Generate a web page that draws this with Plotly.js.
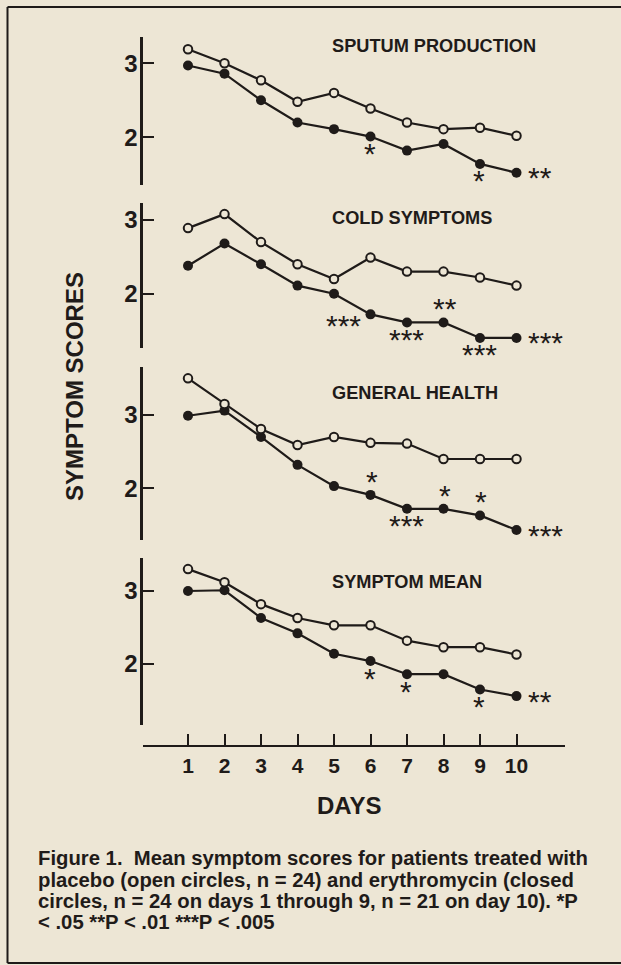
<!DOCTYPE html>
<html>
<head>
<meta charset="utf-8">
<script src="https://cdn.plot.ly/plotly-3.0.1.min.js"></script>
<style>
  html, body { margin: 0; padding: 0; background: #ede6d5; }
  #chart { width: 621px; height: 965px; }
</style>
</head>
<body>
<div id="chart"></div>
<script>
// ---------- data ----------
const days = [1, 2, 3, 4, 5, 6, 7, 8, 9, 10];
const dayTickLabels = ["1", "2", "3", "4", "5", "6", "7", "8", "9", "10"];
const scoreTicks = [2, 3];

const panelTitles = ["SPUTUM PRODUCTION", "COLD SYMPTOMS", "GENERAL HEALTH", "SYMPTOM MEAN"];

// placebo = open circles, erythromycin = closed circles
const sputumPlacebo  = [3.19, 3.00, 2.77, 2.48, 2.60, 2.39, 2.20, 2.11, 2.13, 2.02];
const sputumErythro  = [2.97, 2.86, 2.50, 2.20, 2.11, 2.01, 1.82, 1.91, 1.64, 1.52];
const coldPlacebo    = [2.89, 3.08, 2.70, 2.40, 2.20, 2.49, 2.30, 2.30, 2.22, 2.11];
const coldErythro    = [2.38, 2.68, 2.40, 2.11, 2.00, 1.72, 1.61, 1.61, 1.40, 1.40];
const generalPlacebo = [3.50, 3.15, 2.81, 2.59, 2.70, 2.62, 2.61, 2.40, 2.40, 2.40];
const generalErythro = [2.99, 3.06, 2.70, 2.32, 2.03, 1.91, 1.72, 1.72, 1.63, 1.43];
const meanPlacebo    = [3.30, 3.12, 2.82, 2.63, 2.53, 2.53, 2.32, 2.23, 2.23, 2.13];
const meanErythro    = [3.00, 3.01, 2.63, 2.42, 2.14, 2.04, 1.86, 1.86, 1.65, 1.56];

// significance marks on the erythromycin series
const sputumSig  = ["", "", "", "", "", "*", "", "", "*", "**"];
const coldSig    = ["", "", "", "", "", "***", "***", "**", "***", "***"];
const generalSig = ["", "", "", "", "", "*", "***", "*", "*", "***"];
const meanSig    = ["", "", "", "", "", "*", "*", "", "*", "**"];

const sputumSigAt  = ["", "", "", "", "", "below", "", "", "below", "right"];
const coldSigAt    = ["", "", "", "", "", "belowleft", "below", "above", "below", "right"];
const generalSigAt = ["", "", "", "", "", "above", "below", "above", "above", "right"];
const meanSigAt    = ["", "", "", "", "", "below", "below", "", "below", "right"];

const yAxisTitle = "SYMPTOM SCORES";
const xAxisTitle = "DAYS";
const captionLines = [
  "Figure 1.  Mean symptom scores for patients treated with",
  "placebo (open circles, n = 24) and erythromycin (closed",
  "circles, n = 24 on days 1 through 9, n = 21 on day 10). *P",
  "< .05 **P < .01 ***P < .005"
];

// ---------- styling / layout ----------
const W = 621, H = 965;
const INK = "#1f1b19";
const BG = "#ede6d5";
const FONT = "Liberation Sans, Arial, Helvetica, sans-serif";
const px2x = p => p / W;
const py2y = p => 1 - p / H;

const placeboSets = [sputumPlacebo, coldPlacebo, generalPlacebo, meanPlacebo];
const erythroSets = [sputumErythro, coldErythro, generalErythro, meanErythro];
const sigSets = [sputumSig, coldSig, generalSig, meanSig];
const sigAtSets = [sputumSigAt, coldSigAt, generalSigAt, meanSigAt];

// panel geometry in pixels: [top, bottom] of axis line, and pixel rows of ticks 3 and 2
const panelPx = [
  { top: 37,  bottom: 185, t3: 63.3,  t2: 137.3, titleY: 46 },
  { top: 203, bottom: 348, t3: 220,   t2: 293.7, titleY: 218 },
  { top: 367, bottom: 540, t3: 415,   t2: 488.3, titleY: 393.5 },
  { top: 558, bottom: 725, t3: 591,   t2: 664,   titleY: 582 }
];

const xLeftPx = 142.7, xRightPx = 565, day1Px = 188, day10Px = 516.5;
const stepPx = (day10Px - day1Px) / 9;
const xRange = [1 - (day1Px - xLeftPx) / stepPx, 10 + (xRightPx - day10Px) / stepPx];
const xAxisPx = 746;

const traces = [];
const layout = {
  width: W, height: H,
  margin: { l: 0, r: 0, t: 0, b: 0 },
  paper_bgcolor: BG, plot_bgcolor: "rgba(0,0,0,0)",
  showlegend: false,
  font: { family: FONT, color: INK },
  xaxis: {
    domain: [px2x(xLeftPx), px2x(xRightPx)],
    range: xRange,
    anchor: "free",
    position: py2y(xAxisPx),
    showline: true, linecolor: INK, linewidth: 2.4,
    ticks: "inside", ticklen: 11, tickwidth: 2, tickcolor: INK,
    tickvals: days, ticktext: dayTickLabels,
    tickfont: { family: FONT, size: 21, weight: "bold", color: INK },
    showgrid: false, zeroline: false, fixedrange: true
  },
  annotations: [],
  shapes: []
};

panelPx.forEach((p, i) => {
  const unit = (p.t2 - p.t3);
  const yName = i === 0 ? "yaxis" : "yaxis" + (i + 1);
  const yRef = i === 0 ? "y" : "y" + (i + 1);
  layout[yName] = {
    domain: [py2y(p.bottom), py2y(p.top)],
    range: [2 - (p.bottom - p.t2) / unit, 3 + (p.t3 - p.top) / unit],
    anchor: "x",
    showline: true, linecolor: INK, linewidth: 2.4,
    ticks: "inside", ticklen: 11, tickwidth: 2, tickcolor: INK,
    tickvals: scoreTicks, ticklabelstandoff: -2,
    tickfont: { family: FONT, size: 24, weight: "bold", color: INK },
    showgrid: false, zeroline: false, fixedrange: true
  };

  traces.push({
    x: days, y: erythroSets[i], xaxis: "x", yaxis: yRef,
    type: "scatter", mode: "lines+markers", name: "Erythromycin",
    line: { color: INK, width: 2.2 },
    marker: { symbol: "circle", size: 10, color: INK, line: { width: 0 } },
    cliponaxis: false, hoverinfo: "x+y"
  });
  traces.push({
    x: days, y: placeboSets[i], xaxis: "x", yaxis: yRef,
    type: "scatter", mode: "lines+markers", name: "Placebo",
    line: { color: INK, width: 2.2 },
    marker: { symbol: "circle", size: 8.5, color: BG, line: { width: 2, color: INK } },
    cliponaxis: false, hoverinfo: "x+y"
  });

  layout.annotations.push({
    text: panelTitles[i], xref: "paper", yref: "paper",
    x: px2x(330), y: py2y(p.titleY), xanchor: "left", yanchor: "middle",
    showarrow: false, font: { family: FONT, size: 18.2, weight: "bold", color: INK }
  });

  // significance asterisks, positioned relative to the closed circles
  const OFFSET = {
    below:     { dx: -1,  dy: 15,   xa: "center" },
    above:     { dx: 1,   dy: -15.5, xa: "center" },
    belowleft: { dx: -27, dy: 9,    xa: "center" },
    right:     { dx: 9,   dy: 3,    xa: "left" }
  };
  sigSets[i].forEach((s, k) => {
    if (!s) return;
    const o = OFFSET[sigAtSets[i][k]];
    layout.annotations.push({
      text: s, xref: "x", yref: yRef, x: days[k], y: erythroSets[i][k],
      xanchor: o.xa, yanchor: "middle", showarrow: false,
      xshift: o.dx, yshift: -(o.dy + 2),
      font: { family: FONT, size: 30, color: INK }
    });
  });
});

layout.annotations.push({
  text: yAxisTitle, xref: "paper", yref: "paper",
  x: px2x(75), y: py2y(387), xanchor: "center", yanchor: "middle",
  textangle: -90, showarrow: false,
  font: { family: FONT, size: 24, weight: "bold", color: INK }
});
layout.annotations.push({
  text: xAxisTitle, xref: "paper", yref: "paper",
  x: px2x(349), y: py2y(805), xanchor: "center", yanchor: "middle",
  showarrow: false, font: { family: FONT, size: 24, weight: "bold", color: INK }
});
const captionRowsPx = [858, 879.5, 900.5, 921.5];
captionLines.forEach((line, k) => {
  layout.annotations.push({
    text: line, xref: "paper", yref: "paper",
    x: px2x(36), y: py2y(captionRowsPx[k]), xanchor: "left", yanchor: "middle", align: "left",
    showarrow: false, font: { family: FONT, size: 20.3, weight: "bold", color: INK }
  });
});

// page frame
const frame = { type: "line", xref: "paper", yref: "paper", line: { color: INK, width: 2 }, layer: "below" };
layout.shapes.push(Object.assign({}, frame, { x0: px2x(7.5), x1: px2x(7.5), y0: py2y(7), y1: py2y(963) }));
layout.shapes.push(Object.assign({}, frame, { x0: px2x(7.5), x1: 1, y0: py2y(7), y1: py2y(7) }));
layout.shapes.push(Object.assign({}, frame, { x0: px2x(7.5), x1: 1, y0: py2y(963), y1: py2y(963) }));

Plotly.newPlot("chart", traces, layout, { displayModeBar: false, staticPlot: true });
</script>
</body>
</html>
